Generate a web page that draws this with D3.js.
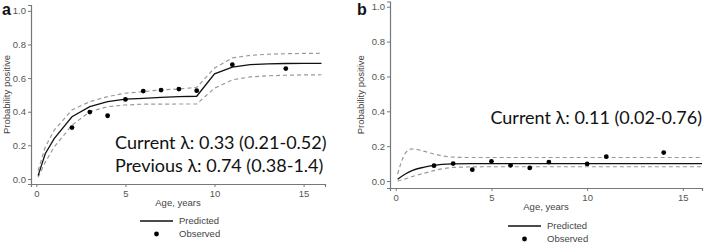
<!DOCTYPE html>
<html>
<head>
<meta charset="utf-8">
<script src="https://cdn.jsdelivr.net/npm/d3@7"></script>
<style>
  body { margin: 0; background: #fff; }
  svg { display: block; }
  text { font-family: "Liberation Sans", Arial, sans-serif; }
</style>
</head>
<body>
<div id="chart"></div>
<script>
// panel a
const agesA = [0.1, 0.5, 1, 2, 3, 4, 5, 6, 7, 8, 9, 10, 11, 12, 13, 14, 15, 16];
const predA = [0.02, 0.15, 0.24, 0.37, 0.43, 0.46, 0.475, 0.48, 0.485, 0.49, 0.492, 0.625, 0.665, 0.68, 0.685, 0.687, 0.688, 0.688];
const upperA = [0.05, 0.19, 0.29, 0.41, 0.46, 0.49, 0.51, 0.52, 0.53, 0.535, 0.545, 0.66, 0.72, 0.735, 0.742, 0.745, 0.747, 0.748];
const lowerA = [0.01, 0.1, 0.19, 0.32, 0.4, 0.43, 0.44, 0.445, 0.445, 0.446, 0.446, 0.54, 0.59, 0.607, 0.614, 0.617, 0.619, 0.62];
const obsAgeA = [2, 3, 4, 5, 6, 7, 8, 9, 11, 14];
const obsA = [0.306, 0.398, 0.376, 0.473, 0.523, 0.529, 0.535, 0.525, 0.68, 0.657];
const notesA = ['Current \u03bb: 0.33 (0.21-0.52)', 'Previous \u03bb: 0.74 (0.38-1.4)'];

// panel b
const agesB = [0.1, 0.5, 0.85, 1.5, 2, 3, 4, 5, 6, 8, 10, 12, 14, 16];
const predB = [0.01, 0.04, 0.06, 0.08, 0.09, 0.098, 0.1, 0.1, 0.1, 0.1, 0.1, 0.1, 0.1, 0.1];
const upperB = [0.04, 0.16, 0.184, 0.17, 0.155, 0.137, 0.135, 0.135, 0.135, 0.135, 0.135, 0.135, 0.135, 0.135];
const lowerB = [0.0, 0.012, 0.025, 0.045, 0.06, 0.078, 0.081, 0.082, 0.082, 0.082, 0.082, 0.082, 0.082, 0.082];
const obsAgeB = [2, 3, 4, 5, 6, 7, 8, 10, 11, 14];
const obsB = [0.088, 0.1, 0.065, 0.113, 0.09, 0.075, 0.109, 0.098, 0.14, 0.163];
const notesB = ['Current \u03bb: 0.11 (0.02-0.76)'];

const xTicks = [0, 5, 10, 15];
const yTicks = [0, 0.2, 0.4, 0.6, 0.8, 1.0];
const legendLabels = ['Predicted', 'Observed'];

const W = 709, H = 244;
const svg = d3.select('#chart').append('svg').attr('width', W).attr('height', H);

function drawPanel(p) {
  const x = d3.scaleLinear().domain(p.xDomain).range(p.xRange);
  const y = d3.scaleLinear().domain(p.yDomain).range(p.yRange);
  const g = svg.append('g');

  const xAxis = g.append('g')
    .attr('transform', `translate(0,${p.yRange[0]})`)
    .call(d3.axisBottom(x).tickValues(xTicks).tickSize(3).tickPadding(3).tickFormat(d3.format('d')));
  const yAxis = g.append('g')
    .attr('transform', `translate(${p.xRange[0]},0)`)
    .call(d3.axisLeft(y).tickValues(yTicks).tickSize(3).tickPadding(2).tickFormat(d3.format('.1f')));
  [xAxis, yAxis].forEach(ax => {
    ax.select('.domain').attr('stroke', '#777').attr('stroke-width', 1.2);
    ax.selectAll('.tick line').attr('stroke', '#777');
    ax.selectAll('.tick text').attr('fill', '#555').style('font-size', '9.5px');
  });

  g.append('text')
    .attr('x', (p.xRange[0] + p.xRange[1]) / 2)
    .attr('y', p.xTitleY)
    .attr('text-anchor', 'middle')
    .attr('fill', '#444')
    .style('font-size', '9.5px')
    .text('Age, years');

  g.append('text')
    .attr('transform', `translate(${p.yTitleX},${(p.yRange[0] + p.yRange[1]) / 2}) rotate(-90)`)
    .attr('text-anchor', 'middle')
    .attr('dy', '0.35em')
    .attr('fill', '#444')
    .style('font-size', '9.5px')
    .text('Probability positive');

  g.append('text')
    .attr('x', p.tagX)
    .attr('y', p.tagY)
    .attr('font-weight', 'bold')
    .style('font-size', '16px')
    .attr('fill', '#111')
    .text(p.tag);

  const line = (vals) => d3.line()
    .curve(p.curve)
    .x((d, i) => x(p.ages[i]))
    .y(d => y(d))(vals);

  [p.upper, p.lower].forEach(vals => {
    g.append('path')
      .attr('d', line(vals))
      .attr('fill', 'none')
      .attr('stroke', '#999')
      .attr('stroke-width', 1.2)
      .attr('stroke-dasharray', '4 3');
  });

  g.append('path')
    .attr('d', line(p.pred))
    .attr('fill', 'none')
    .attr('stroke', '#111')
    .attr('stroke-width', 1.3);

  g.selectAll('.obs')
    .data(p.obsAge)
    .join('circle')
    .attr('class', 'obs')
    .attr('cx', d => x(d))
    .attr('cy', (d, i) => y(p.obs[i]))
    .attr('r', 2.4)
    .attr('fill', '#000');

  p.notes.forEach((t, i) => {
    g.append('text')
      .attr('x', p.noteX)
      .attr('y', p.noteY + i * 22.5)
      .attr('text-anchor', p.noteAnchor)
      .attr('fill', '#111')
      .style('font-family', 'Lato, "Open Sans", sans-serif')
      .style('font-size', '18px')
      .text(t);
  });

  // legend
  const lg = g.append('g');
  lg.append('line')
    .attr('x1', p.legX).attr('x2', p.legX + 33)
    .attr('y1', p.legY).attr('y2', p.legY)
    .attr('stroke', '#111').attr('stroke-width', 1.3);
  lg.append('circle')
    .attr('cx', p.legX + 16.5).attr('cy', p.legY + 13).attr('r', 2.4).attr('fill', '#000');
  legendLabels.forEach((t, i) => {
    lg.append('text')
      .attr('x', p.legX + 39)
      .attr('y', p.legY + i * 13)
      .attr('dy', '0.35em')
      .attr('fill', '#444')
      .style('font-size', '9.5px')
      .text(t);
  });
}

drawPanel({
  tag: 'a', tagX: 2, tagY: 15,
  xDomain: [-0.3, 16.2], xRange: [31, 325],
  yDomain: [-0.03, 1.035], yRange: [184, 5],
  xTitleY: 206, yTitleX: 7,
  ages: agesA, pred: predA, upper: upperA, lower: lowerA,
  obsAge: obsAgeA, obs: obsA, curve: d3.curveLinear,
  notes: notesA, noteX: 115, noteY: 149, noteAnchor: 'start',
  legX: 140, legY: 221
});

drawPanel({
  tag: 'b', tagX: 357, tagY: 15,
  xDomain: [-0.3, 16], xRange: [390, 702],
  yDomain: [-0.04, 1.03], yRange: [188, 1.5],
  xTitleY: 210, yTitleX: 361,
  ages: agesB, pred: predB, upper: upperB, lower: lowerB,
  obsAge: obsAgeB, obs: obsB, curve: d3.curveMonotoneX,
  notes: notesB, noteX: 702, noteY: 123.5, noteAnchor: 'end',
  legX: 508, legY: 226
});
</script>
</body>
</html>
